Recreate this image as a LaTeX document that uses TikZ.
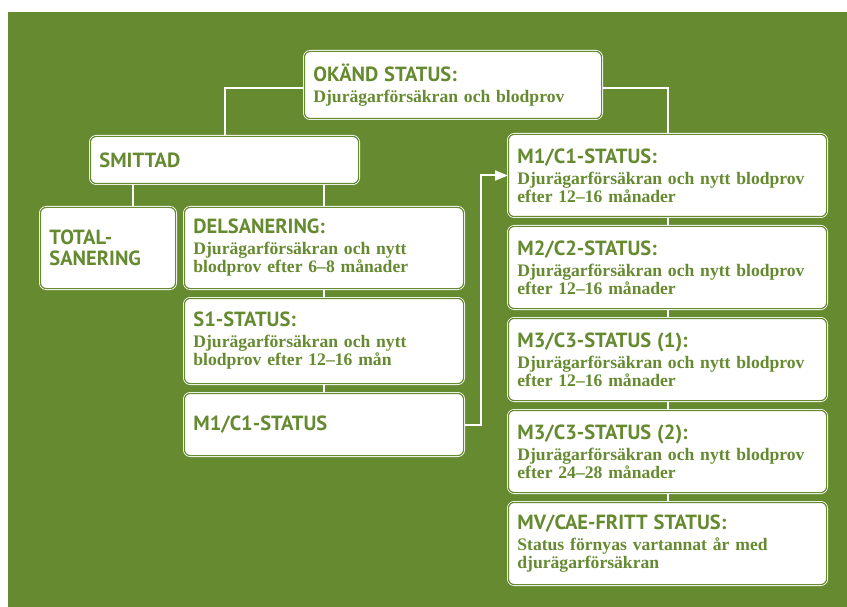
\documentclass[tikz,border=0pt]{standalone}
\usepackage{fontspec}
\setmainfont{Liberation Serif}
\setsansfont{PT Sans}
\usetikzlibrary{arrows.meta, backgrounds}
\definecolor{grn}{HTML}{658A30}
\newcommand{\rubrik}[1]{{\sffamily\bfseries\fontsize{20.5}{21}\selectfont #1}}

\begin{document}
\begin{tikzpicture}[x=1pt, y=-1pt,
    box/.style={draw=white, double=grn, double distance=1.2pt, line width=0.8pt,
      fill=white, rounded corners=6pt, text=grn, align=left, inner xsep=9pt, inner ysep=2pt,
      font=\bfseries\fontsize{17.6}{18}\selectfont},
    rbox/.style={box, minimum width=318.2pt, minimum height=82.2pt, text width=300.2pt},
    lbox/.style={box, minimum width=279.2pt, text width=261.2pt},
    link/.style={draw=white, line width=2pt}]
	\useasboundingbox (0,0) rectangle (847,607);
	\begin{scope}[on background layer]
		\fill[grn] (8,12) rectangle (847,607);
	\end{scope}
	% top
	\node[box, minimum width=297.2pt, minimum height=67.2pt, text width=279.2pt] (okand) at (453,85)
		{\rubrik{OKÄND STATUS:}\\[3pt]Djurägarförsäkran och blodprov};
	% left branch
	\node[box, minimum width=268.2pt, minimum height=47.2pt, text width=250.2pt] (smittad) at (224.5,160)
		{\rubrik{SMITTAD}};
	\node[box, minimum width=135.2pt, minimum height=81.2pt, text width=117.2pt] (total) at (108,248)
		{\rubrik{TOTAL-}\\[3pt]\rubrik{SANERING}};
	\node[lbox, minimum height=81.2pt] (del) at (324,248)
		{\rubrik{DELSANERING:}\\[3pt]Djurägarförsäkran och nytt\\blodprov efter 6--8 månader};
	\node[lbox, minimum height=85.2pt] (s1) at (324,341)
		{\rubrik{S1-STATUS:}\\[3pt]Djurägarförsäkran och nytt\\blodprov efter 12--16 mån};
	\node[lbox, minimum height=62.2pt] (m1l) at (324,424.5)
		{\rubrik{M1/C1-STATUS}};
	% right branch
	\node[rbox] (m1r) at (667.5,175.5)
		{\rubrik{M1/C1-STATUS:}\\[3pt]Djurägarförsäkran och nytt blodprov\\efter 12--16 månader};
	\node[rbox] (m2) at (667.5,267.5)
		{\rubrik{M2/C2-STATUS:}\\[3pt]Djurägarförsäkran och nytt blodprov\\efter 12--16 månader};
	\node[rbox] (m3a) at (667.5,359.5)
		{\rubrik{M3/C3-STATUS (1):}\\[3pt]Djurägarförsäkran och nytt blodprov\\efter 12--16 månader};
	\node[rbox] (m3b) at (667.5,451.5)
		{\rubrik{M3/C3-STATUS (2):}\\[3pt]Djurägarförsäkran och nytt blodprov\\efter 24--28 månader};
	\node[rbox] (mv) at (667.5,543.5)
		{\rubrik{MV/CAE-FRITT STATUS:}\\[3pt]Status förnyas vartannat år med\\djurägarförsäkran};
	% connectors
	\begin{scope}[on background layer]
		\draw[link] ([yshift=-3pt]okand.west) -| (smittad);
		\draw[link] ([yshift=-3pt]okand.east) -| (m1r);
		\draw[link] ([xshift=25pt]total.north) -- ([xshift=25pt]total.north |- smittad.south);
		\draw[link] (smittad.south -| del.north) -- (del.north);
		\draw[link] (del) -- (s1) -- (m1l);
		\draw[link] (m1r) -- (m2) -- (m3a) -- (m3b) -- (mv);
		\draw[link, -{Triangle[length=13pt, width=10pt]}] (m1l.east) -- ++(17,0) |- (m1r.west);
	\end{scope}
\end{tikzpicture}
\end{document}
